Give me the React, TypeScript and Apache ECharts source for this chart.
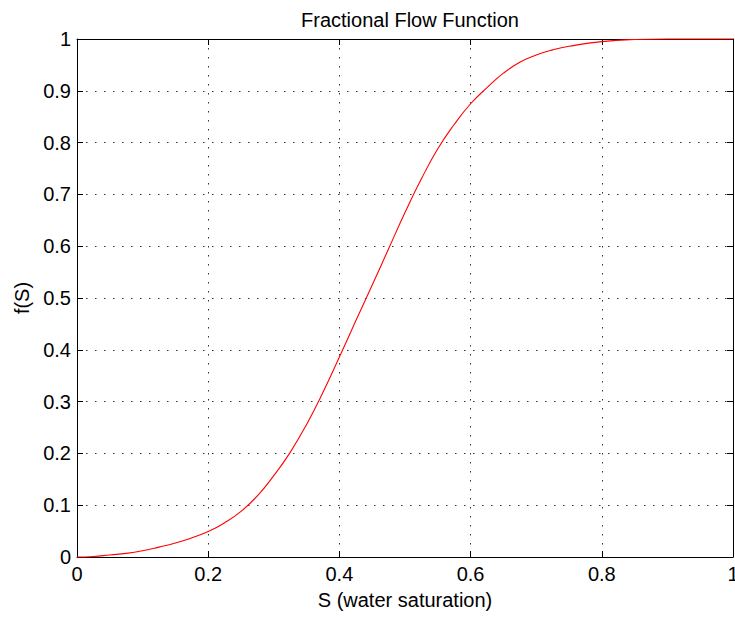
import React, { useEffect, useRef } from "react";
import * as echarts from "echarts";

const saturation = [0, 0.025, 0.05, 0.075, 0.1, 0.125, 0.15, 0.175, 0.2, 0.225, 0.25, 0.275, 0.3, 0.325, 0.35, 0.375, 0.4, 0.425, 0.45, 0.475, 0.5, 0.525, 0.55, 0.575, 0.6, 0.625, 0.65, 0.675, 0.7, 0.725, 0.75, 0.8, 0.85, 0.9, 0.95, 1.0];
const fractionalFlow = [0, 0.001, 0.004, 0.007, 0.012, 0.019, 0.027, 0.037, 0.049, 0.066, 0.088, 0.118, 0.157, 0.202, 0.256, 0.318, 0.386, 0.456, 0.525, 0.595, 0.665, 0.73, 0.788, 0.835, 0.875, 0.906, 0.934, 0.955, 0.969, 0.979, 0.986, 0.995, 0.999, 1, 1, 1];

const titleText = "Fractional Flow Function";
const xName = "S (water saturation)";
const yName = "f(S)";

const FONT = "'Liberation Sans', Arial, Helvetica, sans-serif";

export default function App() {
  const ref = useRef<HTMLDivElement>(null);
  useEffect(() => {
    if (!ref.current) return;
    const chart = echarts.init(ref.current, null, { renderer: "svg" });
    const data = saturation.map((s, i) => [s, fractionalFlow[i]]);
    const gridLine = {
      show: true,
      lineStyle: { color: "#333", width: 1, type: [1.5, 7.5] as any },
    };
    const axisLine = { show: true, onZero: false, lineStyle: { color: "#000", width: 1 } };
    const tick = { show: true, inside: true, length: 6, lineStyle: { color: "#000" } };
    chart.setOption({
      animation: false,
      backgroundColor: "#fff",
      textStyle: { fontFamily: FONT },
      title: {
        text: titleText,
        left: 405,
        textAlign: "center",
        top: 5,
        textStyle: { fontFamily: FONT, fontSize: 20, fontWeight: "normal", color: "#000" },
      },
      grid: { left: 77, right: 2, top: 39, bottom: 60, outerBoundsMode: "none", containLabel: false },
      xAxis: [
        {
          type: "value",
          min: 0,
          max: 1,
          interval: 0.2,
          position: "bottom",
          name: xName,
          nameLocation: "middle",
          nameGap: 33,
          nameTextStyle: { fontFamily: FONT, fontSize: 20, color: "#000" },
          axisLine,
          axisTick: tick,
          axisLabel: { fontFamily: FONT, fontSize: 20, color: "#000", margin: 7 },
          splitLine: gridLine,
        },
        {
          type: "value",
          min: 0,
          max: 1,
          interval: 0.2,
          position: "top",
          axisLine,
          axisTick: tick,
          axisLabel: { show: false },
          splitLine: { show: false },
        },
      ],
      yAxis: [
        {
          type: "value",
          min: 0,
          max: 1,
          interval: 0.1,
          position: "left",
          name: yName,
          nameLocation: "middle",
          nameGap: 43,
          nameTextStyle: { fontFamily: FONT, fontSize: 20, color: "#000" },
          axisLine,
          axisTick: tick,
          axisLabel: { fontFamily: FONT, fontSize: 20, color: "#000", margin: 6 },
          splitLine: gridLine,
        },
        {
          type: "value",
          min: 0,
          max: 1,
          interval: 0.1,
          position: "right",
          axisLine,
          axisTick: tick,
          axisLabel: { show: false },
          splitLine: { show: false },
        },
      ],
      series: [
        {
          type: "line",
          data,
          smooth: 0.5,
          showSymbol: false,
          symbol: "none",
          lineStyle: { color: "#ff0000", width: 1.1 },
          xAxisIndex: 0,
          yAxisIndex: 0,
          clip: false,
        },
      ],
    });
    return () => chart.dispose();
  }, []);
  return <div ref={ref} style={{ width: 735, height: 617, position: "absolute", left: 0, top: 0 }} />;
}
